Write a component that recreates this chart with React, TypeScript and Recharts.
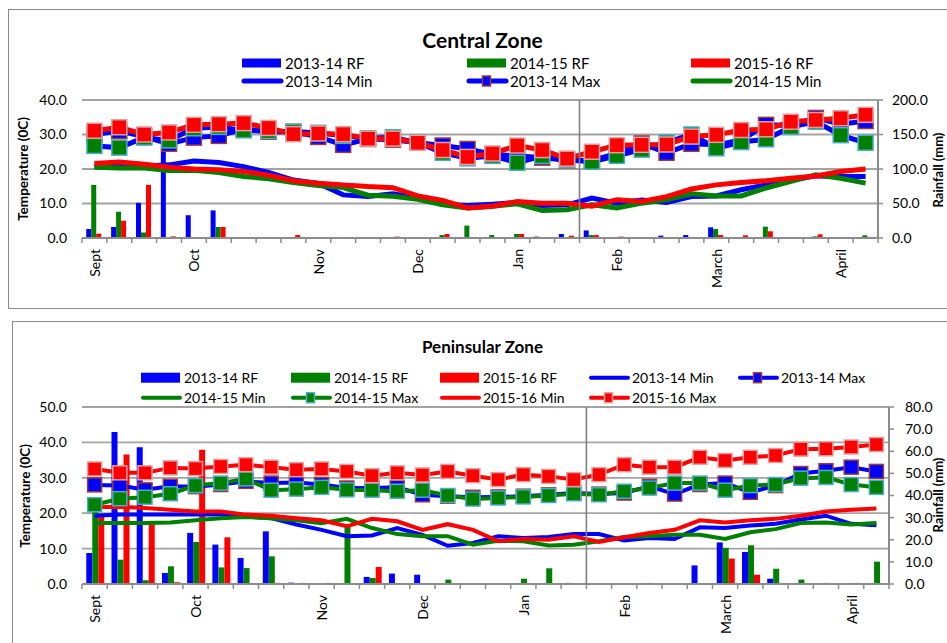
import React from "react";
import { ComposedChart, Bar, Line, XAxis, YAxis, CartesianGrid } from "recharts";

// ---------- categories & labels ----------
const weeks = ["W1","W2","W3","W4","W5","W6","W7","W8","W9","W10","W11","W12","W13","W14","W15","W16",
  "W17","W18","W19","W20","W21","W22","W23","W24","W25","W26","W27","W28","W29","W30","W31","W32"];
const monthLabels = ["Sept","","","","Oct","","","","","Nov","","","","Dec","","","","Jan","","","","Feb","","","","March","","","","","April",""];
const seriesNames = ["2013-14 RF","2014-15 RF","2015-16 RF","2013-14 Min","2013-14 Max","2014-15 Min","2014-15 Max","2015-16 Min","2015-16 Max"];
const tempTicksCentral = [0, 10, 20, 30, 40];
const rainTicksCentral = [0, 50, 100, 150, 200];
const tempTicksPen = [0, 10, 20, 30, 40, 50];
const rainTicksPen = [0, 10, 20, 30, 40, 50, 60, 70, 80];

// ---------- Central Zone ----------
const cRf1314 = [13, 16, 51, 130, 33, 40, 0, 1.5, 0, 0.8, 0, 0, 0, 0, 0, 0, 1, 1, 2, 5.8, 11, 0, 0, 3.4, 4.3, 15.5, 0, 0, 0, 0, 0, 1.5];
const cRf1415 = [77, 38, 8, 0, 0.5, 16, 0, 0, 0, 0, 1.5, 0.8, 0, 0, 4.3, 18, 4.3, 5.8, 0, 0, 4.3, 1, 0, 0, 0, 13, 0, 16.4, 0, 2.4, 0, 3.9];
const cRf1516 = [6.3, 25, 77, 2.4, 0, 16, 0, 1.5, 4.3, 1, 0, 1, 2, 0, 5.8, 0, 0, 5.8, 0, 3.4, 4.3, 2, 1, 1, 0.8, 4.3, 3.9, 9.7, 0, 5.3, 1.5, 1];
const cMin1314 = [20.8, 21.2, 20.9, 21.2, 22.3, 21.9, 20.7, 19.0, 16.8, 15.8, 12.5, 12.0, 12.8, 11.6, 9.8, 9.4, 9.8, 10.3, 9.4, 9.6, 11.6, 10.1, 11.0, 10.3, 12.0, 12.2, 14.0, 15.4, 16.7, 18.0, 17.8, 17.8];
const cMax1314 = [30.0, 31.0, 29.4, 27.3, 29.1, 29.6, 31.6, 30.8, 30.8, 29.3, 27.0, 28.7, 28.5, 27.6, 26.8, 25.8, 24.3, 23.8, 23.3, 22.5, 22.5, 24.5, 27.4, 24.7, 27.3, 27.0, 28.4, 32.8, 32.6, 34.8, 33.0, 33.9];
const cMin1415 = [20.5, 20.3, 20.3, 19.6, 19.6, 19.0, 17.8, 17.2, 16.1, 15.2, 14.6, 12.4, 12.1, 11.2, 9.6, 8.7, 9.2, 9.9, 8.0, 8.2, 9.6, 8.7, 10.1, 11.1, 12.8, 12.2, 12.2, 14.5, 16.4, 18.3, 17.3, 15.9];
const cMax1415 = [26.7, 26.2, 29.1, 28.3, 31.8, 32.2, 31.2, 31.0, 30.8, 30.5, 29.6, 28.9, 29.2, 27.6, 24.7, 23.1, 23.8, 21.8, 23.8, 22.6, 22.1, 23.8, 25.6, 27.7, 30.0, 26.0, 27.8, 28.6, 32.2, 33.7, 29.8, 27.6];
const cMin1516 = [21.6, 22.0, 21.4, 20.5, 20.0, 19.8, 19.3, 18.2, 16.6, 15.9, 15.4, 14.9, 14.6, 12.2, 10.9, 8.7, 9.2, 10.6, 10.1, 10.1, 9.2, 11.1, 10.6, 12.0, 14.2, 15.4, 16.1, 16.6, 17.3, 18.0, 19.3, 20.0];
const cMax1516 = [31.1, 32.1, 30.0, 30.6, 32.8, 33.0, 33.3, 31.9, 30.1, 30.3, 30.1, 28.8, 28.8, 27.6, 25.5, 23.5, 24.5, 26.8, 25.5, 23.0, 25.0, 26.9, 27.0, 27.1, 29.4, 29.9, 31.3, 31.5, 33.7, 34.2, 34.7, 35.7];

// ---------- Peninsular Zone ----------
const pRf1314 = [14, 68.7, 61.8, 5, 23.1, 17.8, 11.8, 23.8, 0.6, 0, 0, 3.2, 4.7, 4.2, 0, 0, 0, 0, 0, 0.5, 0.3, 0, 0, 0, 8.4, 18.8, 14.5, 2.4, 0, 0, 0, 0.3];
const pRf1415 = [36, 11, 1.7, 8.0, 19.0, 7.5, 7.2, 12.5, 0, 0, 26, 2.7, 0, 0, 2.0, 0, 0, 2.4, 7.1, 0, 0, 0, 0.5, 0, 0, 16.3, 17.5, 6.9, 2.0, 0.5, 0, 10.1];
const pRf1516 = [31, 58.5, 27, 0.8, 60.7, 21.1, 0, 0.5, 0.5, 0.5, 0, 7.7, 0, 0, 0, 0, 0, 0, 0, 0, 0, 0, 0, 0, 0, 11.5, 4.2, 0, 0, 0, 0.5, 0.3];
const pMin1314 = [19.3, 19.6, 19.6, 19.6, 19.6, 19.6, 19.1, 18.6, 16.8, 15.3, 13.5, 13.7, 15.8, 13.9, 10.8, 11.6, 13.5, 13.0, 13.3, 14.1, 14.1, 12.3, 13.0, 12.7, 16.0, 15.8, 16.5, 17.0, 18.2, 19.3, 17.0, 16.6];
const pMax1314 = [28.0, 27.8, 26.6, 27.6, 27.5, 28.1, 29.0, 28.5, 28.7, 28.1, 27.1, 27.1, 27.3, 25.2, 24.8, 24.5, 24.6, 24.8, 25.2, 25.7, 25.4, 25.7, 27.6, 25.4, 28.1, 28.5, 25.9, 27.8, 31.2, 32.0, 33.0, 31.8];
const pMin1415 = [17.2, 17.2, 17.2, 17.4, 18.0, 18.6, 18.9, 18.6, 18.0, 17.2, 18.4, 15.8, 14.1, 13.5, 13.5, 11.1, 12.2, 12.1, 10.9, 11.1, 12.1, 13.3, 13.5, 13.9, 13.9, 12.7, 14.6, 15.5, 17.2, 17.4, 16.8, 17.2];
const pMax1415 = [22.4, 24.1, 24.5, 25.5, 27.8, 28.5, 29.7, 26.5, 26.8, 27.3, 26.6, 26.5, 26.2, 26.5, 25.0, 24.0, 24.3, 24.6, 25.0, 25.5, 25.2, 26.2, 27.1, 28.5, 28.5, 26.5, 27.8, 28.1, 29.9, 30.1, 28.1, 27.3];
const pMin1516 = [21.7, 21.8, 21.5, 21.0, 20.5, 20.5, 19.6, 19.3, 18.6, 18.0, 16.3, 18.4, 17.7, 15.3, 16.9, 15.3, 12.1, 12.7, 12.5, 13.5, 11.9, 13.2, 14.4, 15.3, 18.0, 17.4, 18.0, 18.4, 19.3, 20.5, 21.0, 21.3];
const pMax1516 = [32.5, 31.4, 31.4, 32.8, 32.6, 33.2, 33.7, 33.0, 32.3, 32.5, 31.8, 30.6, 31.4, 30.8, 31.8, 30.6, 29.5, 30.9, 30.4, 29.5, 30.9, 33.7, 33.0, 33.0, 35.8, 34.9, 35.8, 36.3, 38.1, 38.2, 38.7, 39.4];

// ---------- styling ----------
const FONT = "Lato, 'DejaVu Sans', sans-serif";
const BLUE = "#0000FF";
const GREEN = "#008000";
const RED = "#FF0000";
const AXIS = "#8c8c8c";
const GRID = "#a3a3a3";
const B_BORDER = "#9b3b3b";
const G_BORDER = "#4bacc6";
const R_BORDER = "#e0a0a0";

const buildRows = (rf1: number[], rf2: number[], rf3: number[], mn1: number[], mx1: number[], mn2: number[], mx2: number[], mn3: number[], mx3: number[]) =>
  weeks.map((w, i) => ({
    week: w,
    rf1314: rf1[i], rf1415: rf2[i], rf1516: rf3[i],
    min1314: mn1[i], max1314: mx1[i], min1415: mn2[i], max1415: mx2[i], min1516: mn3[i], max1516: mx3[i],
  }));

const centralRows = buildRows(cRf1314, cRf1415, cRf1516, cMin1314, cMax1314, cMin1415, cMax1415, cMin1516, cMax1516);
const penRows = buildRows(pRf1314, pRf1415, pRf1516, pMin1314, pMax1314, pMin1415, pMax1415, pMin1516, pMax1516);

const squareDot = (fill: string, stroke: string, size: number, tag: string) => (props: any) => {
  const { cx, cy, index } = props;
  if (cx == null || cy == null) return <g key={`${tag}-n${index}`} />;
  return (
    <rect key={`${tag}-${index}`} x={cx - size / 2} y={cy - size / 2} width={size} height={size}
      fill={fill} stroke={stroke} strokeWidth={1.5} />
  );
};

type ZoneCfg = {
  rows: any[];
  width: number;
  height: number;
  top: number;
  leftW: number;
  rightW: number;
  xH: number;
  tDomain: number[];
  tTicks: number[];
  rDomain: number[];
  rTicks: number[];
  rightTickMargin: number;
  lineW: number;
  markSize: number;
  max1415Line: string;
  divider: number;
};

function Zone({ cfg }: { cfg: ZoneCfg }) {
  const plotW = cfg.width - cfg.leftW - cfg.rightW;
  const band = plotW / weeks.length;
  const plotH = cfg.height - cfg.top - cfg.xH;
  const tick = (props: any) => {
    const { x, y, index } = props;
    const label = monthLabels[index];
    const left = x - band / 2;
    return (
      <g>
        <line x1={left} y1={y} x2={left} y2={y + 5} stroke={AXIS} strokeWidth={1.5} />
        {index === weeks.length - 1 && (
          <line x1={x + band / 2} y1={y} x2={x + band / 2} y2={y + 5} stroke={AXIS} strokeWidth={1.5} />
        )}
        {index === cfg.divider && (
          <line x1={left} y1={y} x2={left} y2={y - plotH} stroke="#808080" strokeWidth={1.6} />
        )}
        {label ? (
          <text transform={`translate(${x},${y + 11}) rotate(-90)`} textAnchor="end" dominantBaseline="central"
            fontFamily={FONT} fontSize={14} fill="#000">{label}</text>
        ) : null}
      </g>
    );
  };
  const fmt = (v: number) => v.toFixed(1);
  return (
    <ComposedChart width={cfg.width} height={cfg.height} data={cfg.rows}
      margin={{ top: cfg.top, right: 0, bottom: 0, left: 0 }} barCategoryGap="17%" barGap={0}>
      <CartesianGrid yAxisId="t" vertical={false} stroke={GRID} strokeWidth={1.8} />
      <XAxis dataKey="week" interval={0} height={cfg.xH} tickLine={false} tickSize={0} tickMargin={0}
        axisLine={{ stroke: AXIS, strokeWidth: 2 }} tick={tick} />
      <YAxis yAxisId="t" orientation="left" width={cfg.leftW} domain={cfg.tDomain} ticks={cfg.tTicks}
        tickFormatter={fmt} axisLine={false} tickLine={false} tickSize={0} tickMargin={15}
        tick={{ fill: "#000", fontSize: 14, fontFamily: FONT }} />
      <YAxis yAxisId="r" orientation="right" width={cfg.rightW} domain={cfg.rDomain} ticks={cfg.rTicks}
        tickFormatter={fmt} axisLine={{ stroke: AXIS, strokeWidth: 2 }} tickLine={{ stroke: AXIS, strokeWidth: 1.5 }}
        tickSize={5} tickMargin={cfg.rightTickMargin}
        tick={{ fill: "#000", fontSize: 14, fontFamily: FONT }} />
      <Line yAxisId="t" dataKey="min1314" name={seriesNames[3]} stroke={BLUE} strokeWidth={cfg.lineW} dot={false} activeDot={false} isAnimationActive={false} />
      <Line yAxisId="t" dataKey="max1314" name={seriesNames[4]} stroke={BLUE} strokeWidth={cfg.lineW}
        dot={squareDot(BLUE, B_BORDER, cfg.markSize, "b")} activeDot={false} isAnimationActive={false} />
      <Line yAxisId="t" dataKey="min1415" name={seriesNames[5]} stroke={GREEN} strokeWidth={cfg.lineW} dot={false} activeDot={false} isAnimationActive={false} />
      <Line yAxisId="t" dataKey="max1415" name={seriesNames[6]} stroke={cfg.max1415Line} strokeWidth={cfg.lineW}
        dot={squareDot(GREEN, G_BORDER, cfg.markSize, "g")} activeDot={false} isAnimationActive={false} />
      <Line yAxisId="t" dataKey="min1516" name={seriesNames[7]} stroke={RED} strokeWidth={cfg.lineW} dot={false} activeDot={false} isAnimationActive={false} />
      <Line yAxisId="t" dataKey="max1516" name={seriesNames[8]} stroke={RED} strokeWidth={cfg.lineW}
        dot={squareDot(RED, R_BORDER, cfg.markSize, "r")} activeDot={false} isAnimationActive={false} />
      <Bar yAxisId="r" dataKey="rf1314" name={seriesNames[0]} fill={BLUE} isAnimationActive={false} />
      <Bar yAxisId="r" dataKey="rf1415" name={seriesNames[1]} fill={GREEN} isAnimationActive={false} />
      <Bar yAxisId="r" dataKey="rf1516" name={seriesNames[2]} fill={RED} isAnimationActive={false} />
    </ComposedChart>
  );
}

type LegendSpec = { idx: number; x: number; row: number };

const legendKinds = ["bar", "bar", "bar", "line", "max", "line", "max", "line", "max"];
const legendColors = [BLUE, GREEN, RED, BLUE, BLUE, GREEN, GREEN, RED, RED];
const legendMarkFill = [BLUE, GREEN, RED, BLUE, BLUE, GREEN, GREEN, RED, RED];
const legendMarkStroke = ["", "", "", "", B_BORDER, "", G_BORDER, "", R_BORDER];

function LegendItems({ items, rowY, iconW, barH, lineW, fontSize }: { items: LegendSpec[]; rowY: number[]; iconW: number; barH: number; lineW: number; fontSize: number }) {
  return (
    <g>
      {items.map((it) => {
        const cy = rowY[it.row];
        const kind = legendKinds[it.idx];
        const c = legendColors[it.idx];
        return (
          <g key={`lg-${it.idx}`}>
            {kind === "bar" && <rect x={it.x} y={cy - barH / 2} width={iconW} height={barH} fill={c} />}
            {kind !== "bar" && (
              <line x1={it.x + 2} y1={cy} x2={it.x + iconW} y2={cy} stroke={c} strokeWidth={lineW} strokeLinecap="round" />
            )}
            {kind === "max" && (
              <rect x={it.x + iconW / 2 - 4} y={cy - 5} width={8} height={10} fill={legendMarkFill[it.idx]} stroke={legendMarkStroke[it.idx]} strokeWidth={1.5} />
            )}
            <text x={it.x + iconW + 4} y={cy} dominantBaseline="central" fontFamily={FONT} fontSize={fontSize} fill="#000">
              {seriesNames[it.idx]}
            </text>
          </g>
        );
      })}
    </g>
  );
}

const topLegend: LegendSpec[] = [
  { idx: 0, x: 242, row: 0 }, { idx: 1, x: 467, row: 0 }, { idx: 2, x: 691, row: 0 },
  { idx: 3, x: 242, row: 1 }, { idx: 4, x: 467, row: 1 }, { idx: 5, x: 691, row: 1 },
];
const bottomLegend: LegendSpec[] = [
  { idx: 0, x: 141, row: 0 }, { idx: 1, x: 291, row: 0 }, { idx: 2, x: 440, row: 0 }, { idx: 3, x: 589, row: 0 }, { idx: 4, x: 738, row: 0 },
  { idx: 5, x: 141, row: 1 }, { idx: 6, x: 291, row: 1 }, { idx: 7, x: 440, row: 1 }, { idx: 8, x: 589, row: 1 },
];

export default function App() {
  const centralCfg: ZoneCfg = {
    rows: centralRows, width: 947, height: 300, top: 100, leftW: 82, rightW: 69, xH: 62,
    tDomain: [0, 40], tTicks: tempTicksCentral, rDomain: [0, 200], rTicks: rainTicksCentral,
    rightTickMargin: 9, lineW: 5, markSize: 15, max1415Line: BLUE, divider: 20,
  };
  const penCfg: ZoneCfg = {
    rows: penRows, width: 947, height: 333, top: 97, leftW: 82, rightW: 58, xH: 59,
    tDomain: [0, 50], tTicks: tempTicksPen, rDomain: [0, 80], rTicks: rainTicksPen,
    rightTickMargin: 11, lineW: 4, markSize: 14, max1415Line: GREEN, divider: 20,
  };
  return (
    <div style={{ position: "fixed", left: 0, top: 0, width: 947, height: 643, overflow: "hidden", background: "#fff" }}>
      <div style={{ position: "absolute", left: 8, top: 9, width: 980, height: 298, border: "1px solid #8a8a8a" }} />
      <div style={{ position: "absolute", left: 12, top: 321, width: 980, height: 400, border: "1px solid #8a8a8a" }} />
      <div style={{ position: "absolute", left: 0, top: 0 }}>
        <Zone cfg={centralCfg} />
      </div>
      <div style={{ position: "absolute", left: 0, top: 310 }}>
        <Zone cfg={penCfg} />
      </div>
      <svg width={947} height={643} style={{ position: "absolute", left: 0, top: 0, pointerEvents: "none" }}>
        <text x={482.5} y={48} textAnchor="middle" fontFamily={FONT} fontWeight="bold" fontSize={21} fill="#000">Central Zone</text>
        <text x={482.5} y={353} textAnchor="middle" fontFamily={FONT} fontWeight="bold" fontSize={17} fill="#000">Peninsular Zone</text>
        <LegendItems items={topLegend} rowY={[63, 81]} iconW={39} barH={9} lineW={5} fontSize={15} />
        <LegendItems items={bottomLegend} rowY={[377.7, 397.7]} iconW={39} barH={10} lineW={4} fontSize={14} />
        <text transform="translate(22.5,169) rotate(-90)" textAnchor="middle" dominantBaseline="central" fontFamily={FONT} fontWeight="bold" fontSize={13.5} fill="#000">Temperature (0C)</text>
        <text transform="translate(938,170) rotate(-90)" textAnchor="middle" dominantBaseline="central" fontFamily={FONT} fontWeight="bold" fontSize={13} fill="#000">Rainfall (mm)</text>
        <text transform="translate(24.5,496) rotate(-90)" textAnchor="middle" dominantBaseline="central" fontFamily={FONT} fontWeight="bold" fontSize={13.5} fill="#000">Temperature (0C)</text>
        <text transform="translate(938,495) rotate(-90)" textAnchor="middle" dominantBaseline="central" fontFamily={FONT} fontWeight="bold" fontSize={13} fill="#000">Rainfall (mm)</text>
      </svg>
    </div>
  );
}
